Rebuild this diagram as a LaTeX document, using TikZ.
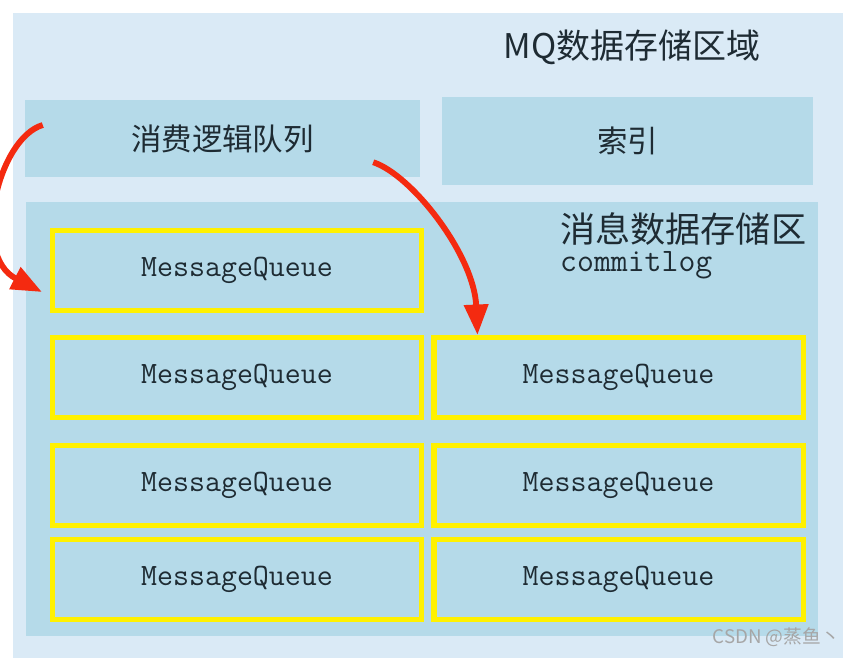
\documentclass[tikz,border=0pt]{standalone}
\usepackage{fontspec}
\newfontfamily\cjk{Noto Sans CJK SC}
\usetikzlibrary{positioning,calc,arrows.meta}

\definecolor{outerblue}{HTML}{DAEAF6}
\definecolor{areablue}{HTML}{B5DAE9}
\definecolor{mqyellow}{HTML}{FFF100}
\definecolor{arrowred}{HTML}{F42A10}
\definecolor{textdark}{HTML}{1E2B33}

\tikzset{
  area/.style={fill=areablue, draw=none, inner sep=0pt},
  cjklabel/.style={font=\cjk\fontsize{26}{30}\selectfont, text=textdark, inner sep=0pt},
  mqbox/.style={draw=mqyellow, line width=4.3pt, fill=areablue, inner sep=0pt,
    minimum width=11.07cm, minimum height=2.4cm,
    font=\ttfamily\fontsize{26.5}{28}\selectfont, text=textdark},
  flowarrow/.style={draw=arrowred, line width=5pt, -{Triangle[length=26pt,width=20pt]}},
}

\begin{document}
\begin{tikzpicture}[x=0.03cm,y=-0.03cm]
	\useasboundingbox (0,0) rectangle (851,658);
	\clip (0,0) rectangle (851,658);
	\fill[white] (0,0) rectangle (851,658);
	% storage area
	\node[area, fill=outerblue, minimum width=24.9cm, minimum height=19.35cm] (store) at (428,335.5) {};
	\node[cjklabel, font=\cjk\fontsize{29}{33}\selectfont] (title) at (632,47) {MQ数据存储区域};
	\node[area, cjklabel, minimum width=11.85cm, minimum height=2.31cm] (logic) at (222.5,138.5) {消费逻辑队列};
	\node[area, cjklabel, minimum width=11.13cm, minimum height=2.64cm] (index) at (627.5,141) {索引};
	% commitlog
	\node[area, minimum width=23.76cm, minimum height=13.02cm] (commit) at (422,419) {};
	\node[cjklabel, anchor=west, font=\cjk\fontsize{30}{34}\selectfont] (commitname) at (560,229) {消息数据存储区};
	\node[anchor=north west, inner sep=0pt, text=textdark, font=\ttfamily\fontsize{28}{30}\selectfont] (commitlog) at ($(commitname.south west)+(0,6)$) {commitlog};
	\foreach \y [count=\i] in {270.5,377.5,485.5,579.5}
		\node[mqbox] (mql\i) at (237,\y) {MessageQueue\hspace{0.4cm}};
	\foreach \y [count=\i from 2] in {377.5,485.5,579.5}
		\node[mqbox] (mqr\i) at (618.5,\y) {MessageQueue\hspace{0.4cm}};
	% arrows
	\coordinate (logicstart) at ($(logic.west)+(18,-13.5)$);
	\coordinate (logicend) at ($(logic.south east)+(-47,-15)$);
	\coordinate (mqlin) at ($(mql1.west)+(-8,21.5)$);
	\coordinate (mqrin) at ($(mqr2.north west)+(46,0)$);
	\draw[flowarrow] (logicstart) .. controls (-2,138) and (-30,255) .. (mqlin);
	\draw[flowarrow] (logicend) .. controls (412,175) and (474,255) .. (mqrin);
	\node[anchor=east, inner sep=0pt, text=gray!70, font=\cjk\fontsize{16}{18}\selectfont] (mark) at (840,637) {CSDN @蒸鱼丶};
\end{tikzpicture}
\end{document}
